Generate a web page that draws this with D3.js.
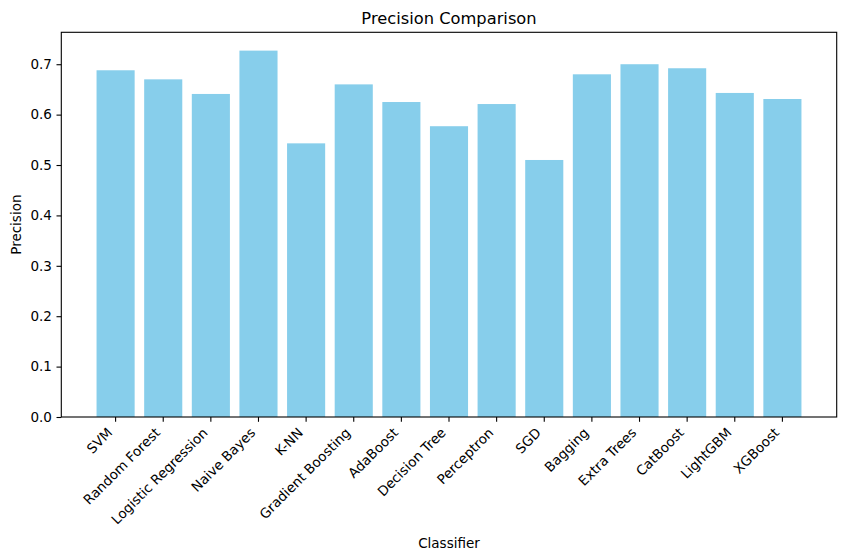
<!DOCTYPE html>
<html>
<head>
<meta charset="utf-8">
<script src="https://cdn.jsdelivr.net/npm/d3@7"></script>
<style>
  html, body { margin: 0; padding: 0; background: #fff; }
  svg { display: block; font-family: "DejaVu Sans", sans-serif; }
</style>
</head>
<body>
<svg id="chart" width="846" height="560"></svg>
<script>
const classifiers = ["SVM", "Random Forest", "Logistic Regression", "Naive Bayes", "K-NN",
  "Gradient Boosting", "AdaBoost", "Decision Tree", "Perceptron", "SGD", "Bagging",
  "Extra Trees", "CatBoost", "LightGBM", "XGBoost"];
const precision = [0.688, 0.670, 0.641, 0.727, 0.543, 0.660, 0.625, 0.577, 0.621, 0.510,
  0.680, 0.700, 0.692, 0.643, 0.631];
const yTicks = [0.0, 0.1, 0.2, 0.3, 0.4, 0.5, 0.6, 0.7];
const titleText = "Precision Comparison";
const xLabel = "Classifier";
const yLabel = "Precision";

const plotL = 61.3, plotT = 32.3, plotR = 836.7, plotB = 417;
const svg = d3.select("#chart");

const x = d3.scaleBand().domain(classifiers).range([plotL, plotR])
  .paddingInner(0.2).paddingOuter(0.74);
const y = d3.scaleLinear().domain([0, d3.max(precision) * 1.05]).range([plotB, plotT]);

// bars
svg.append("g").selectAll("rect").data(classifiers).join("rect")
  .attr("x", d => x(d))
  .attr("width", x.bandwidth())
  .attr("y", (d, i) => y(precision[i]))
  .attr("height", (d, i) => y(0) - y(precision[i]))
  .attr("fill", "#87CEEB");

// y axis
const yAxis = d3.axisLeft(y).tickValues(yTicks).tickFormat(d3.format(".1f"))
  .tickSize(4.8).tickPadding(4.6);
const gy = svg.append("g").attr("transform", `translate(${plotL},0)`).call(yAxis);
gy.select(".domain").remove();
gy.selectAll("line").attr("stroke", "#000").attr("stroke-width", 1.1);
gy.selectAll("text").attr("font-size", 13.5).attr("fill", "#000")
  .attr("font-family", "DejaVu Sans, sans-serif");

// x axis
const xAxis = d3.axisBottom(x).tickSize(4.8).tickPadding(0);
const gx = svg.append("g").attr("transform", `translate(0,${plotB})`).call(xAxis);
gx.select(".domain").remove();
gx.selectAll("line").attr("stroke", "#000").attr("stroke-width", 1.1);
gx.selectAll("text")
  .attr("font-size", 13.5).attr("fill", "#000")
  .attr("font-family", "DejaVu Sans, sans-serif")
  .attr("text-anchor", "end")
  .attr("dy", null)
  .attr("y", null)
  .attr("transform", "translate(-2.3,16.6) rotate(-45)");

// frame
svg.append("rect")
  .attr("x", plotL).attr("y", plotT)
  .attr("width", plotR - plotL).attr("height", plotB - plotT)
  .attr("fill", "none").attr("stroke", "#000").attr("stroke-width", 1.1);

// title and labels
svg.append("text").attr("x", (plotL + plotR) / 2).attr("y", 24)
  .attr("text-anchor", "middle").attr("font-size", 16.3).attr("fill", "#000")
  .text(titleText);
svg.append("text").attr("x", (plotL + plotR) / 2).attr("y", 548)
  .attr("text-anchor", "middle").attr("font-size", 13.5).attr("fill", "#000")
  .text(xLabel);
svg.append("text")
  .attr("transform", `translate(21,${(plotT + plotB) / 2}) rotate(-90)`)
  .attr("text-anchor", "middle").attr("font-size", 13.5).attr("fill", "#000")
  .text(yLabel);
</script>
</body>
</html>
